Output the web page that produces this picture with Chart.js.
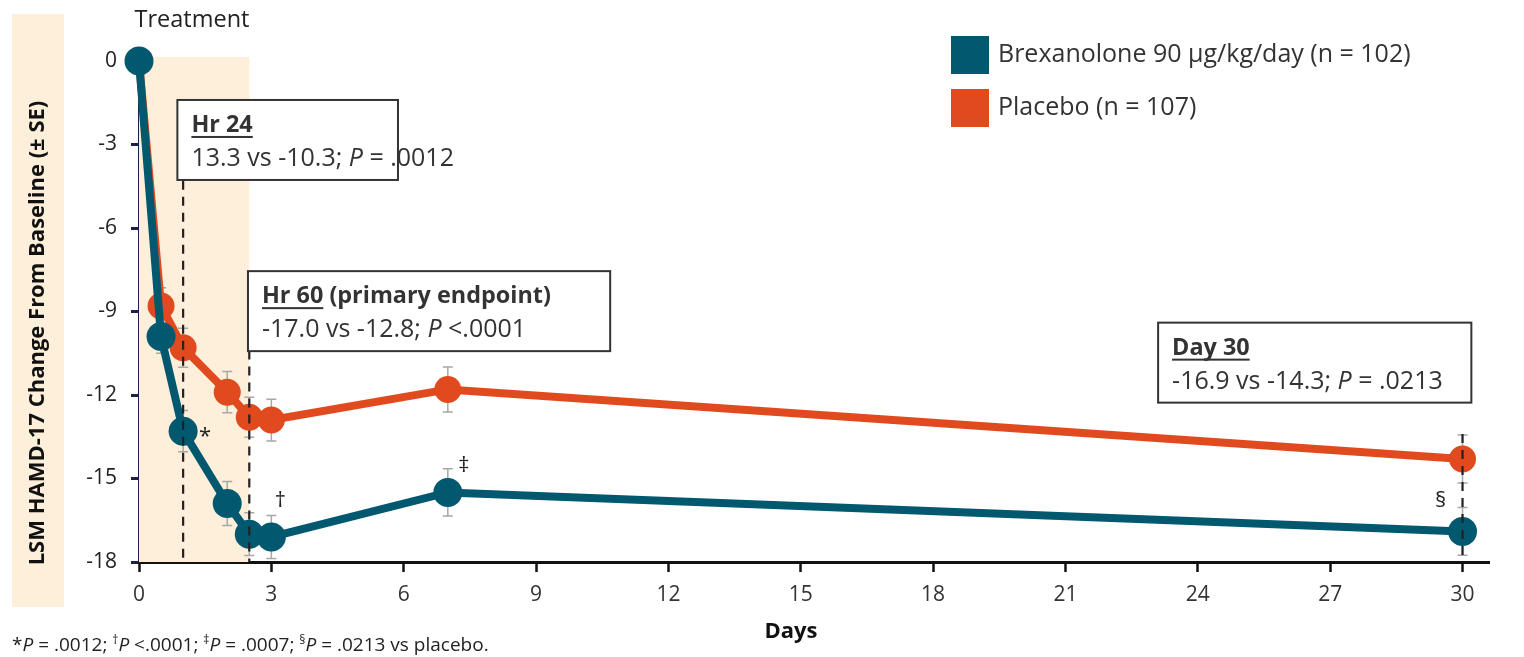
<!DOCTYPE html>
<html>
<head>
<meta charset="utf-8">
<script src="https://cdn.jsdelivr.net/npm/chart.js@4.4.1/dist/chart.umd.min.js"></script>
<style>
  body { margin: 0; background: #fff; }
  canvas { display: block; }
</style>
</head>
<body>
<canvas id="hamdChart" width="1524" height="657"></canvas>
<script>
// values
const days = [0, 0.5, 1, 2, 2.5, 3, 7, 30];
const brexValues = [0, -9.9, -13.3, -15.9, -17.0, -17.1, -15.5, -16.9];
const brexSE = [0, 0.6, 0.74, 0.79, 0.77, 0.77, 0.85, 0.86];
const placeboValues = [0, -8.8, -10.3, -11.9, -12.8, -12.9, -11.8, -14.3];
const placeboSE = [0, 0.65, 0.7, 0.74, 0.72, 0.75, 0.81, 0.86];
const brexMarks = ['', '', '*', '', '', '\u2020', '\u2021', '\u00a7'];
const xTicks = [0, 3, 6, 9, 12, 15, 18, 21, 24, 27, 30];
const yTicks = [0, -3, -6, -9, -12, -15, -18];

const TEAL = '#02586f';
const ORANGE = '#e04a1e';
const PEACH = '#fdefd9';
const FONT = '"Open Sans", Lato, sans-serif';

// where the symbols sit next to their point (pixels)
const markOffsets = [null, null, [22, 6], null, null, [9, -36], [16, -27], [-22, -31]];

// dashed guides, in data units
const guides = [
    { x: 1, from: -4.3, to: -18 },
    { x: 2.5, from: -10.4, to: -18 },
    { x: 30, from: -13.4, to: -17.8 }
];

// annotation boxes: corners in data units
const boxes = [
    { x0: 0.87, x1: 5.87, y0: -1.4, title: [['Hr 24', 'bu']], line: [['13.3 vs -10.3; ', ''], ['P', 'i'], [' = .0012', '']] },
    { x0: 2.47, x1: 10.68, y0: -7.55, title: [['Hr 60', 'bu'], [' (primary endpoint)', 'b']], line: [['-17.0 vs -12.8; ', ''], ['P', 'i'], [' <.0001', '']] },
    { x0: 23.1, x1: 30.2, y0: -9.4, title: [['Day 30', 'bu']], line: [['-16.9 vs -14.3; ', ''], ['P', 'i'], [' = .0213', '']] }
];

function fontFor(style, size) {
    let f = '';
    if (style.includes('i')) f += 'italic ';
    if (style.includes('b')) f += 'bold ';
    return f + size + 'px ' + FONT;
}

function drawRich(ctx, x, y, parts, size) {
    parts.forEach(([text, style]) => {
        const sup = style.includes('s');
        const sz = sup ? Math.round(size * 0.62) : size;
        ctx.font = fontFor(style, sz);
        const w = ctx.measureText(text).width;
        ctx.fillText(text, x, sup ? y - size * 0.38 : y);
        if (style.includes('u')) {
            ctx.fillRect(x, y + 4, w, 2);
        }
        x += w;
    });
    return x;
}

const decorPlugin = {
    id: 'decor',
    beforeDraw(chart) {
        const ctx = chart.ctx;
        ctx.save();
        ctx.fillStyle = PEACH;
        ctx.fillRect(12, 14, 52, 593);
        ctx.restore();
    },
    beforeDatasetsDraw(chart) {
        const ctx = chart.ctx;
        const xs = chart.scales.x, ys = chart.scales.y;
        ctx.save();
        // treatment window
        ctx.fillStyle = PEACH;
        const top = ys.getPixelForValue(0) - 4;
        ctx.fillRect(xs.getPixelForValue(0), top, xs.getPixelForValue(2.5) - xs.getPixelForValue(0), ys.getPixelForValue(-18) - top);
        // error bars
        ctx.strokeStyle = '#a8a8a8';
        ctx.lineWidth = 1.5;
        [[brexValues, brexSE], [placeboValues, placeboSE]].forEach(([vals, se]) => {
            vals.forEach((v, i) => {
                if (!se[i]) return;
                const px = xs.getPixelForValue(days[i]);
                const hi = ys.getPixelForValue(v + se[i]);
                const lo = ys.getPixelForValue(v - se[i]);
                ctx.beginPath();
                ctx.moveTo(px, hi); ctx.lineTo(px, lo);
                ctx.moveTo(px - 5, hi); ctx.lineTo(px + 5, hi);
                ctx.moveTo(px - 5, lo); ctx.lineTo(px + 5, lo);
                ctx.stroke();
            });
        });
        ctx.restore();
    },
    afterDatasetsDraw(chart) {
        const ctx = chart.ctx;
        const xs = chart.scales.x, ys = chart.scales.y;
        ctx.save();
        // dashed guides
        ctx.strokeStyle = '#222';
        ctx.lineWidth = 2.2;
        ctx.setLineDash([9, 7]);
        guides.forEach(g => {
            const px = xs.getPixelForValue(g.x);
            ctx.beginPath();
            ctx.moveTo(px, ys.getPixelForValue(g.from));
            ctx.lineTo(px, ys.getPixelForValue(g.to));
            ctx.stroke();
        });
        ctx.setLineDash([]);
        // boxes
        boxes.forEach(b => {
            const x0 = xs.getPixelForValue(b.x0), x1 = xs.getPixelForValue(b.x1);
            const y0 = ys.getPixelForValue(b.y0);
            ctx.fillStyle = '#fff';
            ctx.fillRect(x0, y0, x1 - x0, 80);
            ctx.strokeStyle = '#333';
            ctx.lineWidth = 2;
            ctx.strokeRect(x0, y0, x1 - x0, 80);
            ctx.fillStyle = '#333';
            ctx.textBaseline = 'alphabetic';
            ctx.textAlign = 'left';
            drawRich(ctx, x0 + 14, y0 + 32, b.title, 23.4);
            drawRich(ctx, x0 + 14, y0 + 66, b.line, 25);
        });
        // significance marks
        ctx.fillStyle = '#222';
        ctx.font = '22px ' + FONT;
        ctx.textAlign = 'center';
        ctx.textBaseline = 'middle';
        brexMarks.forEach((m, i) => {
            if (!m) return;
            const [dx, dy] = markOffsets[i];
            ctx.fillText(m, xs.getPixelForValue(days[i]) + dx, ys.getPixelForValue(brexValues[i]) + dy);
        });
        ctx.restore();
    },
    afterDraw(chart) {
        const ctx = chart.ctx;
        ctx.save();
        ctx.textBaseline = 'middle';
        // treatment label
        ctx.fillStyle = '#222';
        ctx.font = '23.5px ' + FONT;
        ctx.textAlign = 'center';
        ctx.fillText('Treatment', 192, 20);
        // legend
        ctx.textAlign = 'left';
        chart.data.datasets.forEach((ds, i) => {
            const y = 36 + i * 53;
            ctx.fillStyle = ds.borderColor;
            ctx.fillRect(951, y, 38, 38);
            ctx.fillStyle = '#333';
            ctx.font = '25px ' + FONT;
            ctx.fillText(ds.label, 998, y + 19);
        });
        // axis titles
        ctx.fillStyle = '#111';
        ctx.font = 'bold 22px ' + FONT;
        ctx.textAlign = 'center';
        ctx.fillText('Days', 791, 632);
        ctx.save();
        ctx.translate(38, 333);
        ctx.rotate(-Math.PI / 2);
        ctx.fillText('LSM HAMD-17 Change From Baseline (\u00b1 SE)', 0, 0);
        ctx.restore();
        // footnote
        ctx.textAlign = 'left';
        ctx.textBaseline = 'alphabetic';
        ctx.fillStyle = '#222';
        drawRich(ctx, 12, 651, [
            ['*', ''], ['P', 'i'], [' = .0012; ', ''],
            ['\u2020', 's'], ['P', 'i'], [' <.0001; ', ''],
            ['\u2021', 's'], ['P', 'i'], [' = .0007; ', ''],
            ['\u00a7', 's'], ['P', 'i'], [' = .0213 vs placebo.', '']
        ], 19);
        ctx.restore();
    }
};

const ctx = document.getElementById('hamdChart').getContext('2d');

new Chart(ctx, {
    type: 'line',
    data: {
        datasets: [
            {
                label: 'Brexanolone 90 \u00b5g/kg/day (n = 102)',
                data: days.map((d, i) => ({ x: d, y: brexValues[i] })),
                borderColor: TEAL,
                backgroundColor: TEAL,
                borderWidth: 8,
                pointRadius: 14.5,
                pointBorderWidth: 0,
                clip: false
            },
            {
                label: 'Placebo (n = 107)',
                data: days.map((d, i) => ({ x: d, y: placeboValues[i] })),
                borderColor: ORANGE,
                backgroundColor: ORANGE,
                borderWidth: 8,
                pointRadius: 13.5,
                pointBorderWidth: 0,
                clip: false
            }
        ]
    },
    options: {
        responsive: false,
        animation: false,
        layout: { padding: { top: 61, right: 35, left: 0, bottom: 0 } },
        plugins: {
            legend: { display: false },
            tooltip: { enabled: false }
        },
        scales: {
            x: {
                type: 'linear',
                min: 0,
                max: 30.6,
                afterBuildTicks: s => { s.ticks = xTicks.map(v => ({ value: v })); },
                afterFit: s => { s.height = 95; },
                grid: { drawOnChartArea: false, tickLength: 10, tickColor: '#111', tickWidth: 2.5 },
                border: { color: '#111', width: 3 },
                ticks: { color: '#333', font: { family: FONT, size: 21 }, padding: 10, maxRotation: 0 }
            },
            y: {
                min: -18,
                max: 0,
                afterBuildTicks: s => { s.ticks = yTicks.map(v => ({ value: v })); },
                afterFit: s => { s.width = 139; },
                grid: { drawOnChartArea: false, tickLength: 8, tickColor: '#1d1f45', tickWidth: 3 },
                border: { color: '#1d1f45', width: 3 },
                ticks: { color: '#222', font: { family: FONT, size: 21 }, padding: 14 }
            }
        }
    },
    plugins: [decorPlugin]
});
</script>
</body>
</html>
